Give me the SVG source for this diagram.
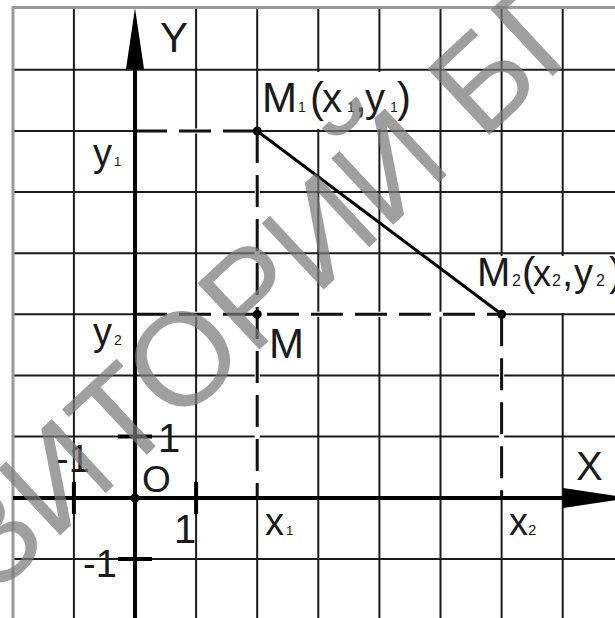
<svg xmlns="http://www.w3.org/2000/svg" width="615" height="618" viewBox="0 0 615 618">
<style>
.grid{stroke:#1a1a1a;stroke-width:2;fill:none}
.border{stroke:#9a9a9a;stroke-width:3;fill:none}
.axis{stroke:#000;stroke-width:4;fill:none}
.tick{stroke:#000;stroke-width:4}
.erase{stroke:#fff;stroke-width:5}
.dash{stroke:#111;stroke-width:3;stroke-dasharray:32 12;fill:none}
.seg{stroke:#000;stroke-width:3}
.lbl{font-family:"Liberation Sans",Arial,sans-serif;fill:#1a1a1a}
.wm{font-family:"Liberation Sans",Arial,sans-serif;font-size:132px;letter-spacing:0px;fill:#7a7a7a;fill-opacity:0.72}
</style>
<rect width="615" height="618" fill="#fff"/>
<g id="grid">
<path class="grid" d="M73.9 8V618M196.1 8V618M257.2 8V618M318.3 8V618M379.4 8V618M440.5 8V618M501.6 8V618M562.7 8V618"/>
<path class="grid" d="M13 69.8H615M13 131H615M13 192.1H615M13 253.2H615M13 314.3H615M13 375.4H615M13 436.5H615M13 559.1H615"/>
<path class="border" d="M13 618V7.5H615"/>
</g>
<g id="label-bg">
<rect x="259" y="72" width="156" height="57" fill="#fff"/>
<rect x="470" y="256" width="145" height="57" fill="#fff"/>
</g>
<g id="connectors">
<path class="erase" d="M137 131H255M257.2 133V496M137 314.3H500M501.6 316V496"/>
<path class="dash" d="M135 131H257.2"/>
<path class="dash" d="M257.2 131V498"/>
<path class="dash" d="M135 314.3H501.6"/>
<path class="dash" d="M501.6 314.3V498"/>
<line class="seg" x1="257.2" y1="131" x2="501.6" y2="314.3"/>
</g>
<g id="axes">
<path class="axis" d="M135 618V60"/>
<polygon points="135,8 126,69 144,69" fill="#000"/>
<path class="axis" d="M13 498H570"/>
<polygon points="563,488 563,508 630,498" fill="#000"/>
<path class="tick" d="M73.9 482V514M196.1 482V514M118 436.5H152M118 559.1H152"/>
</g>
<g id="point-O"><circle cx="135" cy="498" r="4.5" fill="#000"/></g>
<g id="point-M1"><circle cx="257.2" cy="131" r="4.5" fill="#000"/></g>
<g id="point-M"><circle cx="257.2" cy="314.3" r="4.5" fill="#000"/></g>
<g id="point-M2"><circle cx="501.6" cy="314.3" r="4.5" fill="#000"/></g>
<g id="labels">
<text class="lbl" x="160" y="52" font-size="42">Y</text>
<text class="lbl" x="576" y="480" font-size="40">X</text>
<text class="lbl" font-size="42" y="112"><tspan x="262">M</tspan><tspan x="298" font-size="14">1</tspan><tspan x="310">(</tspan><tspan x="322" font-size="40">x</tspan><tspan x="347" font-size="14">1</tspan><tspan x="355">,</tspan><tspan x="365" font-size="40">y</tspan><tspan x="390" font-size="14">1</tspan><tspan x="397">)</tspan></text>
<text class="lbl" font-size="40" y="286"><tspan x="477">M</tspan><tspan x="512" font-size="16">2</tspan><tspan x="522">(</tspan><tspan x="533" font-size="36">x</tspan><tspan x="552" font-size="16">2</tspan><tspan x="562">,</tspan><tspan x="574" font-size="38">y</tspan><tspan x="596" font-size="16">2</tspan><tspan x="609">)</tspan></text>
<text class="lbl" font-size="38" y="166"><tspan x="93">y</tspan><tspan x="114" font-size="13">1</tspan></text>
<text class="lbl" font-size="38" y="345"><tspan x="93">y</tspan><tspan x="114" font-size="14">2</tspan></text>
<text class="lbl" font-size="38" y="535"><tspan x="265">x</tspan><tspan x="286" font-size="13">1</tspan></text>
<text class="lbl" font-size="38" y="535"><tspan x="509">x</tspan><tspan x="528" font-size="15">2</tspan></text>
<text class="lbl" x="269" y="358" font-size="42">M</text>
<text class="lbl" x="142" y="492" font-size="37">O</text>
<text class="lbl" x="158" y="452" font-size="40">1</text>
<text class="lbl" x="56" y="472" font-size="38">-1</text>
<text class="lbl" x="174" y="543" font-size="40">1</text>
<text class="lbl" x="83" y="577" font-size="38">-1</text>
</g>
<g id="watermark">
<text class="wm" x="-6" y="597" transform="rotate(-43 -6 597)">ЗИТОРИЙ БГ</text>
</g>
</svg>
